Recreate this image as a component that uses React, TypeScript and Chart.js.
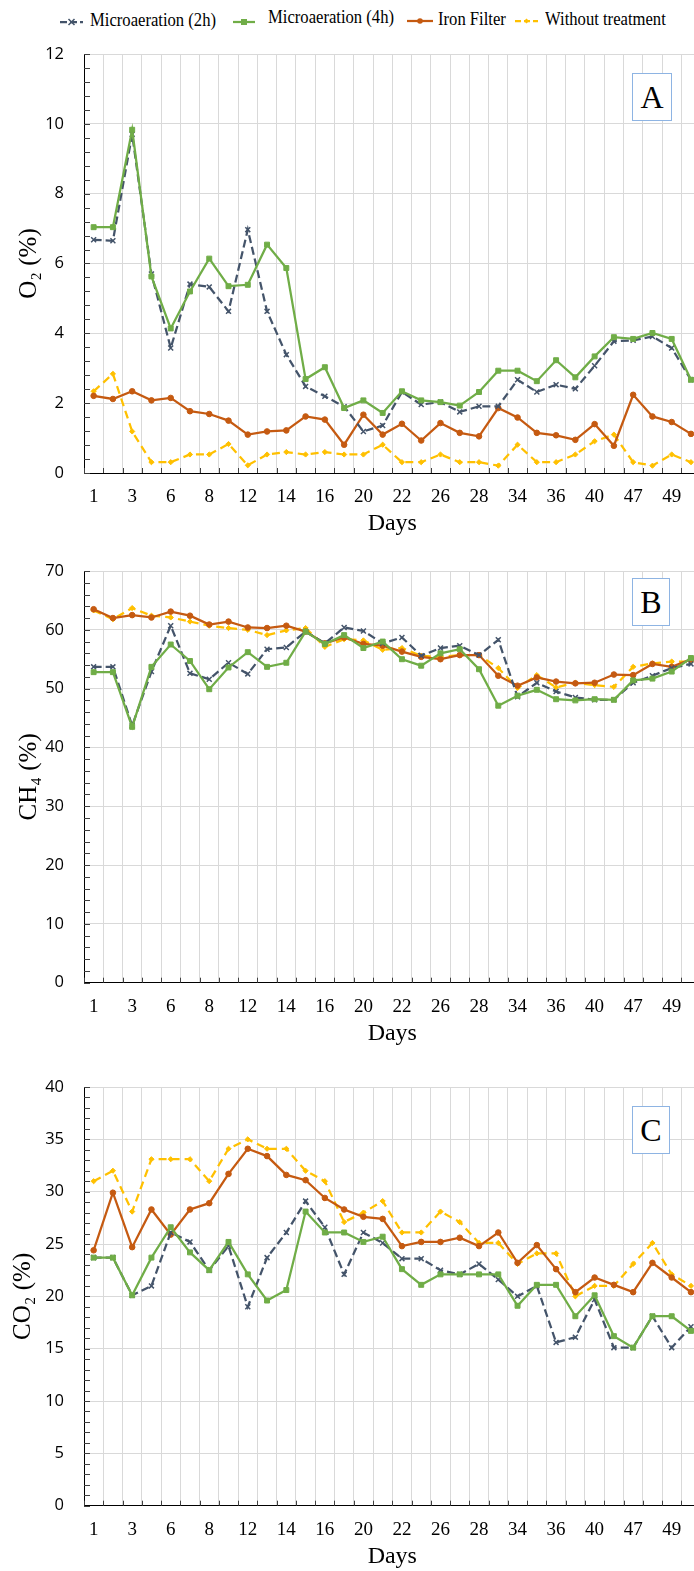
import React, { useEffect, useRef } from 'react';
import { Chart, registerables } from 'chart.js';

Chart.register(...registerables);

// ---------- DATA ----------
const days = ['1', '2', '3', '5', '6', '7', '8', '10', '12', '13', '14', '15', '16', '18', '20', '21',
  '22', '24', '26', '27', '28', '30', '34', '35', '36', '38', '40', '42', '47', '48', '49', '50'];

const seriesNames = ['Microaeration (2h)', 'Microaeration (4h)', 'Iron Filter', 'Without treatment'];

// O2 (%)
const o2Micro2h = [6.68, 6.65, 9.7, 5.7, 3.58, 5.41, 5.33, 4.63, 6.97, 4.63, 3.39, 2.48, 2.2, 1.9, 1.19, 1.36,
  2.32, 1.96, 2.03, 1.75, 1.91, 1.91, 2.67, 2.32, 2.53, 2.41, 3.07, 3.77, 3.8, 3.91, 3.58, 2.67];
const o2Micro4h = [7.04, 7.04, 9.83, 5.63, 4.14, 5.2, 6.14, 5.35, 5.39, 6.54, 5.87, 2.69, 3.03, 1.86, 2.08, 1.72,
  2.34, 2.08, 2.03, 1.93, 2.32, 2.93, 2.93, 2.63, 3.23, 2.74, 3.34, 3.89, 3.84, 4.01, 3.84, 2.67];
const o2Iron = [2.21, 2.12, 2.34, 2.08, 2.15, 1.77, 1.69, 1.5, 1.1, 1.19, 1.22, 1.62, 1.53, 0.81, 1.67, 1.1,
  1.41, 0.93, 1.43, 1.15, 1.05, 1.86, 1.59, 1.15, 1.08, 0.95, 1.4, 0.78, 2.24, 1.62, 1.46, 1.12];
const o2None = [2.34, 2.84, 1.19, 0.31, 0.31, 0.53, 0.53, 0.83, 0.22, 0.53, 0.6, 0.53, 0.6, 0.53, 0.53, 0.81,
  0.31, 0.31, 0.53, 0.31, 0.31, 0.21, 0.81, 0.31, 0.31, 0.53, 0.91, 1.1, 0.31, 0.21, 0.53, 0.31];

// CH4 (%)
const ch4Micro2h = [53.7, 53.7, 43.7, 52.9, 60.7, 52.6, 51.6, 54.4, 52.5, 56.7, 57.0, 59.7, 57.7, 60.4, 59.8, 57.7,
  58.7, 55.6, 56.9, 57.3, 55.7, 58.3, 48.6, 51.0, 49.5, 48.5, 48.1, 48.1, 51.0, 52.2, 53.5, 54.2];
const ch4Micro4h = [52.8, 52.8, 43.5, 53.7, 57.5, 54.7, 49.9, 53.6, 56.2, 53.7, 54.4, 59.7, 57.6, 59.1, 56.9, 58.0,
  55.0, 53.9, 56.0, 56.7, 53.3, 47.1, 48.8, 49.8, 48.2, 48.0, 48.2, 48.1, 51.4, 51.7, 52.9, 55.2];
const ch4Iron = [63.5, 62.0, 62.5, 62.1, 63.1, 62.4, 60.9, 61.4, 60.4, 60.3, 60.7, 59.7, 57.7, 58.7, 57.6, 57.3,
  56.3, 55.4, 55.0, 55.7, 55.7, 52.2, 50.5, 51.9, 51.2, 50.9, 51.0, 52.4, 52.3, 54.2, 53.7, 55.0];
const ch4None = [63.3, 61.8, 63.7, 62.4, 62.1, 61.4, 60.7, 60.3, 60.0, 59.1, 59.9, 60.3, 57.1, 58.4, 58.2, 56.6,
  56.9, 55.6, 55.4, 55.7, 55.7, 53.5, 50.1, 52.3, 50.2, 51.0, 50.6, 50.3, 53.7, 54.3, 54.6, 54.6];

// CO2 (%)
const co2Micro2h = [23.7, 23.7, 20.1, 21.0, 26.1, 25.2, 22.5, 24.8, 19.0, 23.7, 26.1, 29.1, 26.6, 22.1, 26.1, 25.1,
  23.6, 23.6, 22.5, 22.1, 23.1, 21.6, 20.0, 21.0, 15.6, 16.1, 19.7, 15.1, 15.1, 18.1, 15.1, 17.1];
const co2Micro4h = [23.7, 23.7, 20.1, 23.7, 26.6, 24.2, 22.5, 25.2, 22.1, 19.6, 20.6, 28.1, 26.1, 26.1, 25.2, 25.7,
  22.6, 21.1, 22.1, 22.1, 22.1, 22.1, 19.1, 21.1, 21.1, 18.1, 20.1, 16.2, 15.1, 18.1, 18.1, 16.7];
const co2Iron = [24.4, 29.9, 24.7, 28.3, 25.9, 28.3, 28.9, 31.7, 34.1, 33.4, 31.6, 31.1, 29.4, 28.3, 27.6, 27.4,
  24.8, 25.2, 25.2, 25.6, 24.8, 26.1, 23.2, 24.9, 22.6, 20.4, 21.8, 21.1, 20.4, 23.2, 21.8, 20.4];
const co2None = [31.0, 32.0, 28.1, 33.1, 33.1, 33.1, 31.0, 34.1, 35.0, 34.1, 34.1, 32.0, 31.0, 27.1, 28.0, 29.1,
  26.1, 26.1, 28.1, 27.1, 25.1, 25.1, 23.1, 24.1, 24.1, 20.0, 21.0, 21.0, 23.1, 25.1, 22.1, 21.0];

// ---------- STYLE ----------
const COLORS = ['#44546A', '#70AD47', '#C55A11', '#FFC000'];
const SERIF = '"Liberation Serif", "Times New Roman", serif';
const SANS = '"Open Sans", "Noto Sans", sans-serif';

const CANVAS_W = 720;
const PLOT_LEFT = 84;
const PLOT_RIGHT = 700.6;
const TOP_PAD = 34;

const innerTicks = {
  id: 'innerTicks',
  afterDraw(chart: any, _args: any, opts: any) {
    const { ctx, chartArea, scales } = chart;
    const xs = scales.x;
    const ys = scales.y;
    const n = chart.data.labels.length;
    const half = (xs.getPixelForValue(1) - xs.getPixelForValue(0)) / 2;
    ctx.save();
    ctx.strokeStyle = '#404040';
    ctx.lineWidth = 1;
    ctx.beginPath();
    for (let i = 0; i <= n; i++) {
      const px = Math.round(xs.getPixelForValue(i) - half) + 0.5;
      ctx.moveTo(px, chartArea.bottom);
      ctx.lineTo(px, chartArea.bottom - 5);
    }
    const minor = opts.minor;
    for (let v = 0; v <= ys.max + 1e-9; v += minor) {
      const py = Math.round(ys.getPixelForValue(v)) + 0.5;
      ctx.moveTo(chartArea.left, py);
      ctx.lineTo(chartArea.left + 6, py);
    }
    ctx.stroke();
    ctx.restore();
  },
};

function makeDatasets(a: number[], b: number[], c: number[], d: number[]) {
  return [
    {
      label: seriesNames[0], data: a, borderColor: COLORS[0], backgroundColor: COLORS[0],
      borderWidth: 2.25, borderDash: [8, 4], pointStyle: 'crossRot', pointRadius: 3.5,
      pointBorderWidth: 1.5, tension: 0, order: 2,
    },
    {
      label: seriesNames[1], data: b, borderColor: COLORS[1], backgroundColor: COLORS[1],
      borderWidth: 2.25, pointStyle: 'rect', pointRadius: 3.5, pointBorderWidth: 1, tension: 0, order: 1,
    },
    {
      label: seriesNames[2], data: c, borderColor: COLORS[2], backgroundColor: COLORS[2],
      borderWidth: 2.25, pointStyle: 'circle', pointRadius: 2.8, pointBorderWidth: 1, tension: 0, order: 3,
    },
    {
      label: seriesNames[3], data: d, borderColor: COLORS[3], backgroundColor: COLORS[3],
      borderWidth: 2.25, borderDash: [8, 5], pointStyle: 'rectRot', pointRadius: 2.6, pointBorderWidth: 1,
      tension: 0, order: 4,
    },
  ];
}

type PanelProps = {
  plotTop: number; plotBottom: number; titleCenter: number;
  yMax: number; yStep: number; yMinor: number; yTitle: string; titlePad: number;
  series: number[][];
};

function Panel(p: PanelProps) {
  const ref = useRef<HTMLCanvasElement>(null);
  const top = p.plotTop - TOP_PAD;
  const height = Math.round(p.titleCenter + 14.4 - top);
  useEffect(() => {
    if (!ref.current) return;
    const plotBottomLocal = p.plotBottom - top;
    const xHeight = height - plotBottomLocal;
    const chart = new Chart(ref.current, {
      type: 'line',
      data: { labels: days, datasets: makeDatasets(p.series[0], p.series[1], p.series[2], p.series[3]) as any },
      options: {
        responsive: false,
        animation: false,
        devicePixelRatio: 1,
        layout: { padding: { top: TOP_PAD, right: CANVAS_W - PLOT_RIGHT, left: 0, bottom: 0 } },
        plugins: { legend: { display: false }, tooltip: { enabled: false }, innerTicks: { minor: p.yMinor } } as any,
        scales: {
          x: {
            type: 'category',
            offset: true,
            grid: { offset: true, color: '#d9d9d9', lineWidth: 1, drawTicks: false },
            border: { color: '#000', width: 1 },
            ticks: {
              autoSkip: false, maxRotation: 0, minRotation: 0, padding: 13, color: '#000',
              font: { family: SERIF, size: 19 },
              callback: (_v: any, i: number) => (i % 2 === 0 ? days[i] : ''),
            },
            title: { display: true, text: 'Days', color: '#000', font: { family: SERIF, size: 24 }, padding: { top: 0, bottom: 0 } },
            afterFit: (s: any) => { s.height = xHeight; },
          },
          y: {
            min: 0, max: p.yMax,
            ticks: { stepSize: p.yStep, padding: 20, color: '#000', font: { family: SANS, size: 16.5 } },
            grid: { color: '#d9d9d9', lineWidth: 1, drawTicks: false },
            border: { color: '#000', width: 1 },
            title: { display: true, text: p.yTitle, color: '#000', font: { family: SERIF, size: 25 }, padding: { top: p.titlePad, bottom: 0 } },
            afterFit: (s: any) => { s.width = PLOT_LEFT; },
          },
        },
      } as any,
      plugins: [innerTicks],
    });
    return () => chart.destroy();
  }, []);
  return (
    <canvas ref={ref} width={CANVAS_W} height={height}
      style={{ position: 'absolute', left: 0, top, width: CANVAS_W, height }} />
  );
}

function LetterBox({ letter, left, top, w, h }: { letter: string; left: number; top: number; w: number; h: number }) {
  return (
    <div style={{
      position: 'absolute', left, top, width: w, height: h, boxSizing: 'border-box',
      border: '1.5px solid #8EB4E3', background: '#fff', display: 'flex', alignItems: 'center',
      justifyContent: 'center', fontFamily: SERIF, fontSize: 32, color: '#000', lineHeight: 1,
    }}>{letter}</div>
  );
}

function LegendMark({ color, dash, shape, left, top, width }: any) {
  const mid = width / 2;
  let marker: any = null;
  if (shape === 'x') marker = <path d={`M${mid - 3} 3 L${mid + 3} 9 M${mid + 3} 3 L${mid - 3} 9`} stroke={color} strokeWidth={1.5} />;
  if (shape === 'rect') marker = <rect x={mid - 3} y={3} width={6} height={6} fill={color} />;
  if (shape === 'circle') marker = <circle cx={mid} cy={6} r={2.8} fill={color} />;
  if (shape === 'diamond') marker = <path d={`M${mid} 3.5 L${mid + 2.5} 6 L${mid} 8.5 L${mid - 2.5} 6 Z`} fill={color} />;
  return (
    <svg width={width} height={12} style={{ position: 'absolute', left, top }}>
      <line x1={0} y1={6} x2={width} y2={6} stroke={color} strokeWidth={2.25} strokeDasharray={dash || undefined} />
      {marker}
    </svg>
  );
}

function LegendText({ text, left, centerY }: { text: string; left: number; centerY: number }) {
  return (
    <div style={{
      position: 'absolute', left, top: centerY - 11, height: 22, lineHeight: '22px', whiteSpace: 'nowrap',
      fontFamily: SERIF, fontSize: 19, color: '#000', transform: 'scaleX(0.875)', transformOrigin: 'left center',
    }}>{text}</div>
  );
}

export default function App() {
  return (
    <div style={{ position: 'absolute', left: 0, top: 0, width: 694, height: 1571, overflow: 'hidden', background: '#fff' }}>
      <LegendMark color={COLORS[0]} dash="7 3" shape="x" left={60} top={15.5} width={23} />
      <LegendText text={seriesNames[0]} left={90} centerY={20} />
      <LegendMark color={COLORS[1]} shape="rect" left={233} top={15.5} width={22} />
      <LegendText text={seriesNames[1]} left={268} centerY={17} />
      <LegendMark color={COLORS[2]} shape="circle" left={407} top={15} width={26} />
      <LegendText text={seriesNames[2]} left={438} centerY={18.5} />
      <LegendMark color={COLORS[3]} dash="6 3" shape="diamond" left={515} top={15} width={23} />
      <LegendText text={seriesNames[3]} left={545} centerY={18.5} />

      <Panel plotTop={54.3} plotBottom={473.3} titleCenter={524} yMax={12} yStep={2} yMinor={0.4}
        yTitle="O₂ (%)" titlePad={14} series={[o2Micro2h, o2Micro4h, o2Iron, o2None]} />
      <Panel plotTop={571} plotBottom={982.7} titleCenter={1033.5} yMax={70} yStep={10} yMinor={2}
        yTitle="CH₄ (%)" titlePad={14} series={[ch4Micro2h, ch4Micro4h, ch4Iron, ch4None]} />
      <Panel plotTop={1087.3} plotBottom={1506} titleCenter={1557} yMax={40} yStep={5} yMinor={1}
        yTitle="CO₂ (%)" titlePad={8} series={[co2Micro2h, co2Micro4h, co2Iron, co2None]} />

      <LetterBox letter="A" left={632} top={73} w={40} h={48} />
      <LetterBox letter="B" left={632} top={578} w={38} h={48} />
      <LetterBox letter="C" left={632} top={1106} w={38} h={48} />
    </div>
  );
}
